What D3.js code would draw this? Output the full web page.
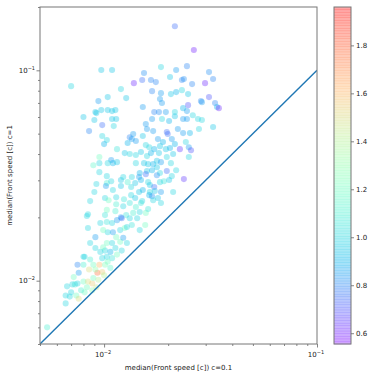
<!DOCTYPE html>
<html>
<head>
<meta charset="utf-8">
<script src="https://cdn.jsdelivr.net/npm/d3@7"></script>
<style>
body { margin: 0; background: #fff; }
svg { display: block; font-family: "DejaVu Sans", sans-serif; }
</style>
</head>
<body>
<svg id="chart"></svg>
<script>
// median front speed at c=0.1 (x), at c=1 (y) and the colour value of each run
let speedC01 = [
  0.0215, 0.0264, 0.0070, 0.0097, 0.0109, 0.0185, 0.0218, 0.0245, 0.0311, 0.0154,
  0.0138, 0.0151, 0.0166, 0.0175, 0.0204, 0.0232, 0.0237, 0.0259, 0.0298, 0.0325,
  0.0120, 0.0168, 0.0185, 0.0206, 0.0218, 0.0232, 0.0248, 0.0094, 0.0104, 0.0127,
  0.0183, 0.0187, 0.0248, 0.0285, 0.0288, 0.0311, 0.0332, 0.0339, 0.0346, 0.0152,
  0.0091, 0.0097, 0.0104, 0.0109, 0.0113, 0.0172, 0.0181, 0.0195, 0.0215, 0.0235,
  0.0245, 0.0261, 0.0276, 0.0288, 0.0080, 0.0090, 0.0109, 0.0114, 0.0168, 0.0187,
  0.0202, 0.0215, 0.0235, 0.0245, 0.0325, 0.0092, 0.0098, 0.0085, 0.0111, 0.0157,
  0.0159, 0.0170, 0.0197, 0.0222, 0.0235, 0.0253, 0.0279, 0.0098, 0.0103, 0.0100,
  0.0132, 0.0137, 0.0135, 0.0129, 0.0141, 0.0152, 0.0179, 0.0199, 0.0208, 0.0189,
  0.0157, 0.0163, 0.0172, 0.0183, 0.0195, 0.0204, 0.0215, 0.0227, 0.0242, 0.0250,
  0.0256, 0.0250, 0.0115, 0.0125, 0.0132, 0.0141, 0.0149, 0.0159, 0.0166, 0.0181,
  0.0197, 0.0211, 0.0095, 0.0095, 0.0089, 0.0108, 0.0110, 0.0115, 0.0104, 0.0141,
  0.0154, 0.0161, 0.0170, 0.0177, 0.0185, 0.0206, 0.0159, 0.0168, 0.0177, 0.0183,
  0.0197, 0.0218, 0.0208, 0.0191, 0.0202, 0.0237, 0.0177, 0.0157, 0.0147, 0.0146,
  0.0095, 0.0103, 0.0092, 0.0103, 0.0108, 0.0120, 0.0123, 0.0129, 0.0135, 0.0140,
  0.0149, 0.0161, 0.0164, 0.0172, 0.0183, 0.0102, 0.0110, 0.0120, 0.0134, 0.0146,
  0.0152, 0.0164, 0.0173, 0.0185, 0.0211, 0.0090, 0.0086, 0.0101, 0.0105, 0.0114,
  0.0124, 0.0134, 0.0140, 0.0151, 0.0163, 0.0168, 0.0179, 0.0185, 0.0170, 0.0149,
  0.0114, 0.0123, 0.0132, 0.0141, 0.0103, 0.0113, 0.0120, 0.0127, 0.0137, 0.0147,
  0.0157, 0.0161, 0.0084, 0.0101, 0.0084, 0.0086, 0.0091, 0.0075, 0.0080, 0.0067,
  0.0066, 0.0071, 0.0054, 0.0066, 0.0069, 0.0070, 0.0073, 0.0074, 0.0076, 0.0072,
  0.0076, 0.0080, 0.0081, 0.0083, 0.0080, 0.0083, 0.0084, 0.0088, 0.0089, 0.0093,
  0.0098, 0.0085, 0.0089, 0.0095, 0.0101, 0.0104, 0.0098, 0.0103, 0.0109, 0.0115,
  0.0096, 0.0101, 0.0107, 0.0113, 0.0121, 0.0128, 0.0119, 0.0123, 0.0109, 0.0103,
  0.0099, 0.0091, 0.0114, 0.0104, 0.0110, 0.0119, 0.0125, 0.0099, 0.0096, 0.0103,
  0.0109, 0.0115, 0.0121, 0.0132, 0.0143, 0.0128, 0.0147, 0.0156, 0.0135, 0.0075,
  0.0088, 0.0092, 0.0081, 0.0078, 0.0094, 0.0091, 0.0107, 0.0100, 0.0086
]
let speedC1 = [
  0.162, 0.125, 0.0841, 0.1003, 0.1003, 0.1036, 0.1003, 0.1047, 0.0981, 0.0971,
  0.0869, 0.0899, 0.0899, 0.0879, 0.0929, 0.0899, 0.0909, 0.0860, 0.0869, 0.0909,
  0.0814, 0.0796, 0.0779, 0.0771, 0.0788, 0.0805, 0.0771, 0.0714, 0.0746, 0.0738,
  0.0730, 0.0699, 0.0683, 0.0714, 0.0706, 0.0746, 0.0699, 0.0669, 0.0661, 0.0669,
  0.0633, 0.0647, 0.0647, 0.0640, 0.0647, 0.0633, 0.0633, 0.0633, 0.0633, 0.0661,
  0.0640, 0.0612, 0.0587, 0.0581, 0.0600, 0.0581, 0.0587, 0.0587, 0.0587, 0.0587,
  0.0574, 0.0605, 0.0587, 0.0587, 0.0538, 0.0626, 0.0549, 0.0514, 0.0543, 0.0555,
  0.0526, 0.0514, 0.0509, 0.0526, 0.0503, 0.0503, 0.0526, 0.0487, 0.0466, 0.0446,
  0.0481, 0.0498, 0.0471, 0.0451, 0.0461, 0.0487, 0.0471, 0.0498, 0.0471, 0.0456,
  0.0441, 0.0431, 0.0422, 0.0436, 0.0422, 0.0427, 0.0446, 0.0422, 0.0456, 0.0431,
  0.0417, 0.0387, 0.0422, 0.0404, 0.0400, 0.0396, 0.0409, 0.0391, 0.0404, 0.0404,
  0.0387, 0.0400, 0.0387, 0.0362, 0.0354, 0.0375, 0.0362, 0.0366, 0.0362, 0.0362,
  0.0362, 0.0358, 0.0358, 0.0371, 0.0366, 0.0362, 0.0332, 0.0335, 0.0346, 0.0325,
  0.0332, 0.0335, 0.0314, 0.0297, 0.0301, 0.0304, 0.0317, 0.0321, 0.0325, 0.0311,
  0.0328, 0.0314, 0.0288, 0.0291, 0.0297, 0.0301, 0.0311, 0.0294, 0.0311, 0.0291,
  0.0301, 0.0294, 0.0285, 0.0279, 0.0294, 0.0282, 0.0270, 0.0282, 0.0279, 0.0264,
  0.0270, 0.0264, 0.0267, 0.0264, 0.0264, 0.0264, 0.0239, 0.0247, 0.0241, 0.0249,
  0.0244, 0.0255, 0.0247, 0.0239, 0.0255, 0.0252, 0.0247, 0.0234, 0.0241, 0.0234,
  0.0231, 0.0226, 0.0234, 0.0224, 0.0217, 0.0214, 0.0200, 0.0205, 0.0210, 0.0212,
  0.0210, 0.0219, 0.0207, 0.0205, 0.0178, 0.0151, 0.0161, 0.0119, 0.0130, 0.0094,
  0.0085, 0.0096, 0.0060, 0.0078, 0.0084, 0.0088, 0.0096, 0.0085, 0.0082, 0.0104,
  0.0109, 0.0119, 0.0130, 0.0203, 0.0099, 0.0093, 0.0099, 0.0097, 0.0103, 0.0109,
  0.0110, 0.0113, 0.0119, 0.0119, 0.0119, 0.0123, 0.0128, 0.0130, 0.0128, 0.0133,
  0.0137, 0.0139, 0.0137, 0.0143, 0.0139, 0.0151, 0.0153, 0.0160, 0.0151, 0.0151,
  0.0144, 0.0143, 0.0161, 0.0170, 0.0170, 0.0174, 0.0178, 0.0174, 0.0188, 0.0190,
  0.0188, 0.0194, 0.0198, 0.0198, 0.0198, 0.0180, 0.0174, 0.0184, 0.0184, 0.0097,
  0.0090, 0.0093, 0.0088, 0.0090, 0.0101, 0.0113, 0.0115, 0.0106, 0.0126
]
let colourValue = [
  0.75, 0.60, 1.00, 0.95, 0.95, 1.00, 0.85, 0.80, 0.82, 0.82,
  0.62, 0.75, 0.80, 0.80, 0.95, 0.80, 0.82, 0.80, 0.62, 0.80,
  1.00, 0.80, 0.85, 0.95, 0.90, 1.00, 0.95, 0.85, 0.95, 0.95,
  0.85, 0.85, 0.70, 0.80, 0.85, 0.70, 0.80, 0.90, 0.62, 0.85,
  0.95, 0.95, 0.95, 0.95, 0.95, 0.80, 0.82, 0.85, 1.00, 0.90,
  0.85, 1.00, 1.00, 1.00, 0.95, 0.95, 0.95, 0.95, 0.85, 1.00,
  0.90, 0.95, 0.85, 0.85, 0.95, 0.95, 0.75, 0.80, 1.00, 0.85,
  0.85, 0.85, 0.75, 0.85, 0.85, 0.90, 1.00, 1.00, 1.00, 0.90,
  0.80, 0.85, 0.85, 0.90, 0.85, 0.95, 0.85, 0.75, 0.85, 0.90,
  1.00, 1.00, 0.90, 0.95, 0.95, 0.90, 0.90, 0.65, 1.00, 0.85,
  0.70, 1.00, 1.05, 0.95, 1.00, 1.00, 0.95, 1.00, 0.90, 0.95,
  1.00, 0.95, 1.20, 1.00, 1.15, 0.85, 0.90, 0.95, 1.00, 1.00,
  0.95, 0.95, 0.90, 0.95, 0.85, 1.00, 0.95, 0.90, 0.95, 1.00,
  0.75, 1.00, 1.00, 1.05, 0.95, 0.65, 0.82, 0.75, 0.90, 0.85,
  1.00, 1.00, 1.00, 1.10, 1.00, 0.95, 1.00, 1.10, 1.00, 0.95,
  0.90, 1.00, 0.95, 0.75, 1.00, 0.85, 1.00, 0.95, 1.00, 0.95,
  0.90, 1.00, 0.95, 0.85, 1.00, 1.00, 1.00, 1.00, 1.20, 1.00,
  1.05, 1.00, 0.95, 1.00, 0.90, 0.82, 0.95, 1.00, 1.00, 1.05,
  1.10, 1.00, 1.05, 1.10, 1.20, 1.10, 0.85, 1.05, 1.10, 1.00,
  1.20, 1.05, 1.00, 1.05, 1.00, 1.00, 0.85, 0.80, 1.00, 1.00,
  1.00, 1.00, 1.10, 1.00, 1.00, 1.00, 1.05, 1.20, 1.50, 1.20,
  0.85, 1.10, 1.00, 1.00, 1.20, 1.20, 1.50, 1.55, 1.20, 1.75,
  1.55, 1.50, 1.20, 1.60, 1.25, 1.20, 1.00, 1.00, 1.05, 1.20,
  1.00, 1.00, 0.90, 1.00, 1.00, 1.00, 1.20, 0.85, 1.00, 1.20,
  1.20, 1.00, 1.20, 1.00, 0.85, 1.00, 1.20, 1.20, 1.00, 1.05,
  1.00, 0.85, 0.75, 1.00, 1.00, 1.00, 1.00, 1.20, 1.05, 1.00,
  1.30, 1.45, 1.20, 1.10, 1.40, 1.30, 1.15, 1.40, 1.10
]
let colourLimits = [0.555, 1.96]
let colourTicks = [0.6, 0.8, 1.0, 1.2, 1.4, 1.6, 1.8]
let xLimits = [0.005, 0.1]
let yLimits = [0.005, 0.2]
let identityLine = [0.005, 0.1]

let w = 374
let h = 375
let plot = {left: 40, right: 317, top: 7, bottom: 344}
let bar = {left: 334, right: 351}
let alpha = 0.36

let svg = d3.select('#chart').attr('width', w).attr('height', h)

let xScale = d3.scaleLog().domain(xLimits).range([plot.left, plot.right])
let yScale = d3.scaleLog().domain(yLimits).range([plot.bottom, plot.top])
let cScale = d3.scaleLinear().domain(colourLimits).range([0, 1]).clamp(true)
let barScale = d3.scaleLinear().domain(colourLimits).range([plot.bottom, plot.top])

// matplotlib "rainbow" colormap
let rainbow = (t) => {
  let r = Math.min(1, Math.abs(2 * t - 0.5))
  let g = Math.sin(Math.PI * t)
  let b = Math.max(0, Math.cos(Math.PI * t / 2))
  return d3.rgb(r * 255, g * 255, b * 255).formatHex()
}

let isMajor = (v) => Math.abs(Math.log10(v) - Math.round(Math.log10(v))) < 1e-6

svg.append('clipPath').attr('id', 'clip')
  .append('rect')
  .attr('x', plot.left).attr('y', plot.top)
  .attr('width', plot.right - plot.left).attr('height', plot.bottom - plot.top)

let points = speedC01.map((x, i) => ({x: x, y: speedC1[i], c: colourValue[i]}))

svg.append('g').attr('clip-path', 'url(#clip)')
  .selectAll('circle')
  .data(points)
  .enter()
  .append('circle')
  .attr('cx', (d) => xScale(d.x))
  .attr('cy', (d) => yScale(d.y))
  .attr('r', 3.05)
  .attr('fill', (d) => rainbow(cScale(d.c)))
  .attr('fill-opacity', alpha)

svg.append('line')
  .attr('clip-path', 'url(#clip)')
  .attr('x1', xScale(identityLine[0])).attr('y1', yScale(identityLine[0]))
  .attr('x2', xScale(identityLine[1])).attr('y2', yScale(identityLine[1]))
  .attr('stroke', '#1f77b4')
  .attr('stroke-width', 1.4)

// axes: major and minor ticks drawn separately
let drawAxis = (axisFn, scale, pos, values, size) => {
  let g = svg.append('g')
    .attr('transform', pos)
    .call(axisFn(scale).tickValues(values).tickSize(size).tickFormat(''))
  g.select('.domain').remove()
  g.selectAll('line').attr('stroke', '#666').attr('stroke-width', 0.8)
  return g
}

let xTicks = xScale.ticks()
let yTicks = yScale.ticks().filter((v) => v >= yLimits[0] && v <= yLimits[1])

drawAxis(d3.axisBottom, xScale, 'translate(0,' + plot.bottom + ')', xTicks.filter((v) => !isMajor(v)), 2)
drawAxis(d3.axisBottom, xScale, 'translate(0,' + plot.bottom + ')', xTicks.filter(isMajor), 3.5)
drawAxis(d3.axisLeft, yScale, 'translate(' + plot.left + ',0)', yTicks.filter((v) => !isMajor(v)), 2)
drawAxis(d3.axisLeft, yScale, 'translate(' + plot.left + ',0)', yTicks.filter(isMajor), 3.5)

let powerLabel = (sel, v) => {
  sel.append('tspan').text('10')
  sel.append('tspan')
    .attr('dy', -3)
    .attr('font-size', 5)
    .text('\u2212' + Math.abs(Math.round(Math.log10(v))))
}

xTicks.filter(isMajor).forEach((v) => {
  let t = svg.append('text')
    .attr('x', xScale(v) - 1)
    .attr('y', 357)
    .attr('text-anchor', 'middle')
    .attr('font-size', 7)
    .attr('fill', '#222')
  powerLabel(t, v)
})

yTicks.filter(isMajor).forEach((v) => {
  let t = svg.append('text')
    .attr('x', 35)
    .attr('y', yScale(v) + 2.5)
    .attr('text-anchor', 'end')
    .attr('font-size', 7)
    .attr('fill', '#222')
  powerLabel(t, v)
})

svg.append('rect')
  .attr('x', plot.left).attr('y', plot.top)
  .attr('width', plot.right - plot.left).attr('height', plot.bottom - plot.top)
  .attr('fill', 'none')
  .attr('stroke', '#777')
  .attr('stroke-width', 1)

svg.append('text')
  .attr('x', (plot.left + plot.right) / 2)
  .attr('y', 370)
  .attr('text-anchor', 'middle')
  .attr('font-size', 7)
  .attr('fill', '#222')
  .text('median(Front speed [c]) c=0.1')

svg.append('text')
  .attr('transform', 'translate(12,' + (plot.top + plot.bottom) / 2 + ') rotate(-90)')
  .attr('text-anchor', 'middle')
  .attr('font-size', 7)
  .attr('fill', '#222')
  .text('median(Front speed [c]) c=1')

// colorbar
let steps = d3.range(0, 128)
let stepSize = (colourLimits[1] - colourLimits[0]) / steps.length
svg.append('g')
  .selectAll('rect')
  .data(steps)
  .enter()
  .append('rect')
  .attr('x', bar.left)
  .attr('width', bar.right - bar.left)
  .attr('y', (i) => barScale(colourLimits[0] + (i + 1) * stepSize))
  .attr('height', (i) => barScale(colourLimits[0] + i * stepSize) - barScale(colourLimits[0] + (i + 1) * stepSize) + 0.4)
  .attr('fill', (i) => rainbow(cScale(colourLimits[0] + (i + 0.5) * stepSize)))
  .attr('fill-opacity', alpha)

svg.append('rect')
  .attr('x', bar.left).attr('y', plot.top)
  .attr('width', bar.right - bar.left).attr('height', plot.bottom - plot.top)
  .attr('fill', 'none')
  .attr('stroke', '#777')
  .attr('stroke-width', 1)

let barAxis = svg.append('g')
  .attr('transform', 'translate(' + bar.right + ',0)')
  .call(d3.axisRight(barScale).tickValues(colourTicks).tickSize(3).tickPadding(2).tickFormat(d3.format('.1f')))
barAxis.select('.domain').remove()
barAxis.selectAll('line').attr('stroke', '#666').attr('stroke-width', 0.8)
barAxis.selectAll('text')
  .attr('font-size', 7)
  .attr('font-family', '"DejaVu Sans", sans-serif')
  .attr('fill', '#222')
</script>
</body>
</html>
